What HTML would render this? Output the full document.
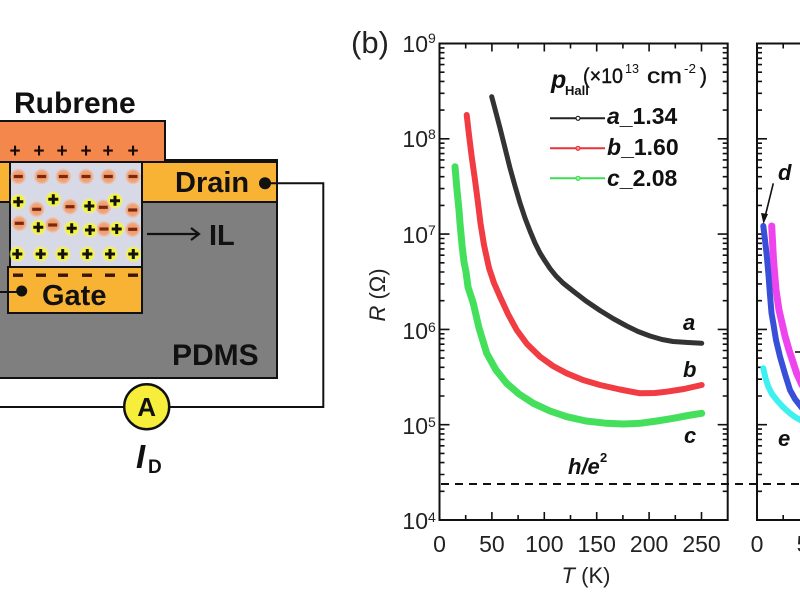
<!DOCTYPE html>
<html><head><meta charset="utf-8"><style>
html,body{margin:0;padding:0;background:#fff;}
svg{display:block;}
text{font-family:"Liberation Sans",Arial,sans-serif;}
</style></head><body>
<svg width="800" height="600" viewBox="0 0 800 600" xmlns="http://www.w3.org/2000/svg">
<defs>
<radialGradient id="og" cx="50%" cy="50%" r="50%">
<stop offset="0%" stop-color="#EE9560"/><stop offset="70%" stop-color="#F2A57A"/><stop offset="100%" stop-color="#F2B898" stop-opacity="0.3"/>
</radialGradient>
<radialGradient id="yg" cx="50%" cy="50%" r="50%">
<stop offset="0%" stop-color="#F7F53A"/><stop offset="75%" stop-color="#F3F23C"/><stop offset="100%" stop-color="#F5F27A" stop-opacity="0.4"/>
</radialGradient>
<g id="mi"><circle r="8" fill="url(#og)"/><rect x="-4.5" y="-1.6" width="9" height="3.2" fill="#7a2810"/></g>
<g id="pl"><circle r="7.8" fill="url(#yg)"/><path d="M-5,0H5M0,-5V5" stroke="#111" stroke-width="3"/></g>
<path id="yt" d="M0,520h10M0,424.7h10M0,329.4h10M0,234.1h10M0,138.8h10M0,43.5h10
M0,491.3h5M0,474.5h5M0,462.6h5M0,453.4h5M0,445.8h5M0,439.5h5M0,433.9h5M0,429.1h5
M0,396h5M0,379.2h5M0,367.3h5M0,358.1h5M0,350.5h5M0,344.2h5M0,338.6h5M0,333.8h5
M0,300.7h5M0,283.9h5M0,272h5M0,262.8h5M0,255.2h5M0,248.9h5M0,243.3h5M0,238.5h5
M0,205.4h5M0,188.6h5M0,176.7h5M0,167.5h5M0,159.9h5M0,153.6h5M0,148h5M0,143.2h5
M0,110.1h5M0,93.3h5M0,81.4h5M0,72.2h5M0,64.6h5M0,58.3h5M0,52.7h5M0,47.9h5" stroke="#111" stroke-width="1.6" fill="none"/>
</defs>

<!-- ============ Panel (a) schematic ============ -->
<rect x="-3" y="160" width="280" height="218" fill="#7F7F7F" stroke="#111" stroke-width="2"/>
<rect x="-3" y="121" width="168" height="41" fill="#F4884C" stroke="#111" stroke-width="2"/>
<g font-weight="bold" font-size="19" fill="#1a0a05" text-anchor="middle">
<text x="15" y="157">+</text><text x="39" y="157">+</text><text x="62" y="157">+</text>
<text x="86" y="157">+</text><text x="108" y="157">+</text><text x="133" y="157">+</text>
</g>
<rect x="-3" y="162" width="13" height="40" fill="#F8B234" stroke="#111" stroke-width="2"/>
<rect x="142" y="162" width="135" height="40" fill="#F8B234" stroke="#111" stroke-width="2"/>
<text x="175" y="192" font-size="29" font-weight="bold" fill="#111">Drain</text>
<rect x="10" y="162" width="132" height="105" fill="#D7DAE6" stroke="#111" stroke-width="2"/>
<use href="#mi" x="18.3" y="176.5"/><use href="#mi" x="41.7" y="176.5"/><use href="#mi" x="63.3" y="176.5"/>
<use href="#mi" x="86" y="176.5"/><use href="#mi" x="108.3" y="176.5"/><use href="#mi" x="133" y="176.5"/>
<use href="#mi" x="36.7" y="209.3"/><use href="#mi" x="70" y="206.7"/><use href="#mi" x="103.3" y="207.3"/><use href="#mi" x="132.7" y="210"/>
<use href="#mi" x="19.3" y="223.3"/><use href="#mi" x="52.7" y="225"/><use href="#mi" x="104" y="229"/><use href="#mi" x="132.7" y="229.3"/>
<use href="#pl" x="18.3" y="201.7"/><use href="#pl" x="53.3" y="199.3"/><use href="#pl" x="89.3" y="206"/><use href="#pl" x="115" y="200.7"/>
<use href="#pl" x="38.3" y="227.3"/><use href="#pl" x="71.7" y="228.3"/><use href="#pl" x="90" y="230"/><use href="#pl" x="116.7" y="229"/>
<use href="#pl" x="17.3" y="254"/><use href="#pl" x="40.7" y="254"/><use href="#pl" x="62.7" y="254"/>
<use href="#pl" x="87.3" y="254"/><use href="#pl" x="110" y="254"/><use href="#pl" x="133.3" y="254"/>
<rect x="8" y="267" width="134" height="46" fill="#F8B234" stroke="#111" stroke-width="2"/>
<g fill="#3a1508">
<rect x="13" y="273.5" width="10" height="3.4"/><rect x="36" y="273.5" width="10" height="3.4"/><rect x="58" y="273.5" width="10" height="3.4"/>
<rect x="82" y="273.5" width="10" height="3.4"/><rect x="105" y="273.5" width="10" height="3.4"/><rect x="128" y="273.5" width="10" height="3.4"/>
</g>
<text x="42" y="305" font-size="29" font-weight="bold" fill="#111">Gate</text>
<circle cx="21.7" cy="291" r="5.5" fill="#111"/>
<line x1="0" y1="292" x2="20" y2="292" stroke="#111" stroke-width="2"/>
<path d="M147,234H199M191,228L199,234L191,240" stroke="#111" stroke-width="2.2" fill="none"/>
<text x="209" y="245" font-size="29" font-weight="bold" fill="#111">IL</text>
<text x="172" y="365" font-size="30" font-weight="bold" fill="#111">PDMS</text>
<text x="14" y="113" font-size="30" font-weight="bold" fill="#111">Rubrene</text>
<circle cx="265" cy="183.3" r="6" fill="#111"/>
<path d="M265,183.3H323.3V407H0" stroke="#111" stroke-width="2" fill="none"/>
<circle cx="146.7" cy="406.7" r="22.5" fill="#F6EE3A" stroke="#111" stroke-width="2.5"/>
<text x="146.7" y="416" font-size="26" font-weight="bold" fill="#111" text-anchor="middle">A</text>
<text x="136" y="468" font-size="33" font-weight="bold" font-style="italic" fill="#111">I</text>
<text x="148" y="473" font-size="19" font-weight="bold" fill="#111">D</text>

<!-- ============ Panel (b) ============ -->
<text x="351" y="53" font-size="31" fill="#222">(b)</text>
<line x1="441" y1="484" x2="800" y2="484" stroke="#111" stroke-width="2" stroke-dasharray="8,6"/>
<rect x="439.5" y="43.5" width="288.2" height="476.5" fill="none" stroke="#111" stroke-width="2"/>
<use href="#yt" x="439.5"/>
<use href="#yt" transform="translate(727.7,0) scale(-1,1)"/>
<path d="M465.7,520v-5M491.9,520v-8M518.1,520v-5M544.3,520v-8M570.5,520v-5M596.7,520v-8M622.9,520v-5M649.1,520v-8M675.3,520v-5M701.5,520v-8
M465.7,43.5v5M491.9,43.5v8M518.1,43.5v5M544.3,43.5v8M570.5,43.5v5M596.7,43.5v8M622.9,43.5v5M649.1,43.5v8M675.3,43.5v5M701.5,43.5v8" stroke="#111" stroke-width="1.6"/>
<g font-size="23" fill="#222" text-anchor="end">
<text x="428" y="52">10</text><text x="428" y="147">10</text><text x="428" y="243">10</text>
<text x="428" y="339">10</text><text x="428" y="434">10</text><text x="428" y="529">10</text>
</g>
<g font-size="14" fill="#222">
<text x="428" y="43">9</text><text x="428" y="139">8</text><text x="428" y="235">7</text>
<text x="428" y="332">6</text><text x="428" y="427">5</text><text x="428" y="522">4</text>
</g>
<g font-size="23" fill="#222" text-anchor="middle">
<text x="439.5" y="552">0</text><text x="491.9" y="552">50</text><text x="544.3" y="552">100</text>
<text x="596.7" y="552">150</text><text x="649.1" y="552">200</text><text x="701.5" y="552">250</text>
<text x="757" y="552">0</text><text x="809.4" y="552">50</text>
</g>
<text x="586" y="583" font-size="22" fill="#222" text-anchor="middle"><tspan font-style="italic">T</tspan> (K)</text>
<text transform="translate(385,295) rotate(-90)" font-size="22" fill="#222" text-anchor="middle"><tspan font-style="italic">R</tspan> (Ω)</text>

<g fill="none" stroke-linecap="round" stroke-linejoin="round">
<polyline stroke="#44E05C" stroke-width="7" points="455,166.7 457,190 459,210 460,223.3 462,245 464,262 466,272 468,287 473.3,303.3 479,328 486.7,353.3 496,370 506.7,383.3 519,394 533.3,403.3 550,411 566.7,416.7 586,421 606.7,423.3 623,424 640,423.3 657,421 673.3,418.3 688,415.5 701.7,413.3"/>
<polyline stroke="#F03C42" stroke-width="6" points="466.7,115 469,135 471.7,156.7 475,180 478,203 480.5,223.3 484,245 489,268 494,283 500,296.7 508,314 516.7,330 527,344 540,356.7 553,366 566.7,373.3 583,380 600,385 620,389.5 640,393.3 655,393 666.7,391.7 684,389 701.7,385"/>
<polyline stroke="#333" stroke-width="5" points="491.7,96.7 495,109 500,128 505,148 510,168 515,186 520,203 525,218 530,231 535,243 540,253 545,261 550,268.5 556,276 563,283 573,291 586,301 600,310.5 613,318.5 626.7,326 638,331.5 650,336 662,339.5 673,341.5 688,342.5 701.7,343.3"/>
</g>
<!-- legend -->
<text x="551" y="88" font-size="25" font-weight="bold" font-style="italic" fill="#111">p</text>
<text x="565" y="95" font-size="13" font-weight="bold" fill="#111">Hall</text>
<text x="583" y="83" font-size="21" fill="#111" stroke="#111" stroke-width="0.4" textLength="40" lengthAdjust="spacingAndGlyphs">(×10</text>
<text x="625" y="73" font-size="13" fill="#111" textLength="14" lengthAdjust="spacingAndGlyphs">13</text>
<text x="647" y="83" font-size="21" fill="#111" stroke="#111" stroke-width="0.4" textLength="35" lengthAdjust="spacingAndGlyphs">cm</text>
<text x="684" y="73" font-size="13" fill="#111" textLength="12" lengthAdjust="spacingAndGlyphs">-2</text>
<text x="700" y="83" font-size="21" fill="#111" stroke="#111" stroke-width="0.4">)</text>
<g stroke-width="2">
<line x1="550" y1="118.3" x2="605" y2="118.3" stroke="#222"/>
<circle cx="578" cy="118.3" r="2" fill="#fff" stroke="#222" stroke-width="1.2"/>
<line x1="550" y1="148.3" x2="605" y2="148.3" stroke="#E8323A"/>
<circle cx="578" cy="148.3" r="2" fill="#f99" stroke="#E8323A" stroke-width="1.2"/>
<line x1="550" y1="178.3" x2="605" y2="178.3" stroke="#3DDC55"/>
<circle cx="578" cy="178.3" r="2" fill="#9f9" stroke="#3DDC55" stroke-width="1.2"/>
</g>
<g font-size="23" font-weight="bold" fill="#111">
<text x="607" y="124"><tspan font-style="italic">a</tspan>_1.34</text>
<text x="607" y="155"><tspan font-style="italic">b</tspan>_1.60</text>
<text x="607" y="186"><tspan font-style="italic">c</tspan>_2.08</text>
</g>
<g font-size="22" font-weight="bold" font-style="italic" fill="#111">
<text x="683" y="330">a</text>
<text x="683" y="377">b</text>
<text x="684" y="443">c</text>
<text x="568" y="474">h/e</text>
<text x="778" y="180">d</text>
<text x="778" y="446">e</text>
</g>
<text x="600" y="462" font-size="13" font-weight="bold" fill="#111">2</text>

<!-- second panel -->
<path d="M757,43.5V520M756,43.5H800M756,520H800" stroke="#111" stroke-width="2" fill="none"/>
<use href="#yt" x="757"/>
<path d="M783.2,520v-5M783.2,43.5v5" stroke="#111" stroke-width="1.6"/>
<g fill="none" stroke-linecap="round" stroke-linejoin="round">
<polyline stroke="#3FF0F0" stroke-width="6" points="763.3,368.3 765.5,378 768.3,386.7 772,394 776.7,400 783,407 790,413.3 795,417 802,421"/>
<polyline stroke="#EE44EE" stroke-width="7" points="771.7,226 773.5,260 776,290 779,310 782,323 785,336 789,350 793,362 796.5,373 802,385"/>
<polyline stroke="#3A4FD8" stroke-width="6" points="763.3,226 765,240 766.7,255 768.5,275 770,295 771.5,313 773.3,323.3 776,340 780,356.7 785,374 790,390 795,399 802,408"/>
</g>
<path d="M773.3,183.3L764.5,219" stroke="#111" stroke-width="1.6"/>
<path d="M761,213L763.5,224L768,214Z" fill="#111"/>
<line x1="795" y1="352" x2="800" y2="352" stroke="#111" stroke-width="1.6"/>
</svg>
</body></html>
